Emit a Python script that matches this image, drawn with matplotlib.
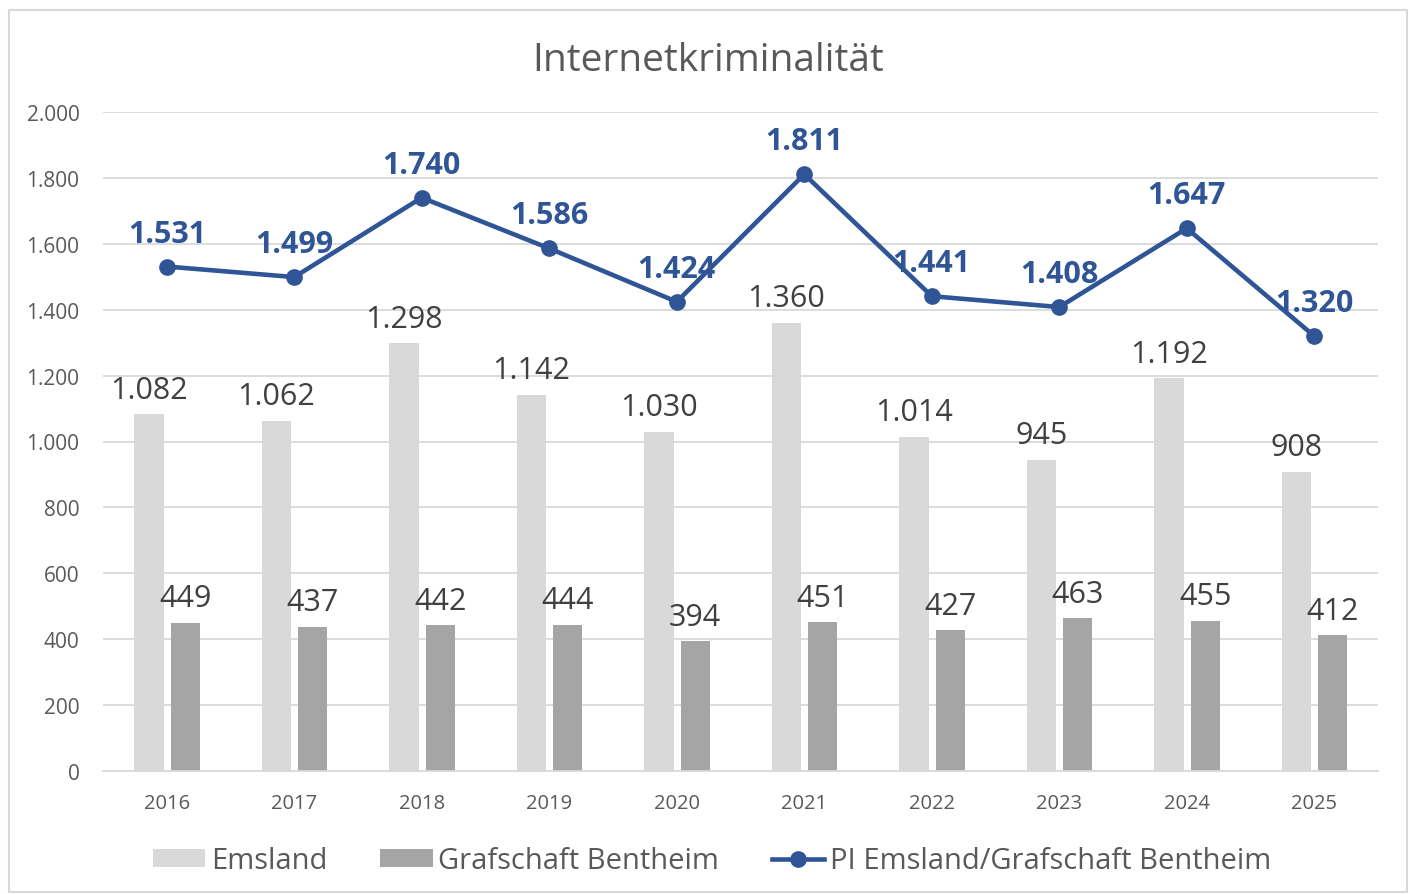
import numpy as np
import matplotlib.pyplot as plt
from matplotlib.patches import Rectangle

plt.rcParams['font.family'] = ['Open Sans', 'DejaVu Sans']

years = ['2016', '2017', '2018', '2019', '2020', '2021', '2022', '2023', '2024', '2025']
emsland = [1082, 1062, 1298, 1142, 1030, 1360, 1014, 945, 1192, 908]
grafschaft = [449, 437, 442, 444, 394, 451, 427, 463, 455, 412]
pi_total = [1531, 1499, 1740, 1586, 1424, 1811, 1441, 1408, 1647, 1320]

def fmt(v):
    return '{:,}'.format(v).replace(',', '.')

fig = plt.figure(figsize=(14.1, 8.95), dpi=100)
ax = fig.add_axes([103/1410, 1-772/895, 1275/1410, 659/895])

x = np.arange(len(years))
w = 0.23
b1 = ax.bar(x - 0.14, emsland, w, color='#D9D9D9', label='Emsland', zorder=2)
b2 = ax.bar(x + 0.145, grafschaft, w, color='#A5A5A5', label='Grafschaft Bentheim', zorder=2)
ln, = ax.plot(x, pi_total, color='#2F5597', lw=3.3, marker='o', ms=11, zorder=3,
              label='PI Emsland/Grafschaft Bentheim')

for xi, v in zip(x - 0.14, emsland):
    ax.annotate(fmt(v), (xi, v), xytext=(0, 12), textcoords='offset points',
                ha='center', va='baseline', fontsize=22, color='#404040')
for xi, v in zip(x + 0.145, grafschaft):
    ax.annotate(fmt(v), (xi, v), xytext=(0, 12), textcoords='offset points',
                ha='center', va='baseline', fontsize=22, color='#404040')
for xi, v in zip(x, pi_total):
    ax.annotate(fmt(v), (xi, v), xytext=(0, 18), textcoords='offset points',
                ha='center', va='baseline', fontsize=22, fontweight='bold', color='#2F5597')

ax.set_xlim(-0.5, 9.5)
ax.set_ylim(0, 2000)
ax.set_yticks(range(0, 2001, 200))
ax.set_yticklabels([fmt(v) for v in range(0, 2001, 200)], fontsize=15, color='#595959')
ax.set_xticks(x)
ax.set_xticklabels(years, fontsize=14.5, color='#595959')
ax.tick_params(length=0, pad=16)
ax.tick_params(axis='y', pad=17)
ax.grid(axis='y', color='#D9D9D9', lw=1.3, zorder=0)
ax.set_axisbelow(True)
for s in ['top', 'right', 'left']:
    ax.spines[s].set_visible(False)
ax.spines['bottom'].set_color('#D9D9D9')
ax.spines['bottom'].set_linewidth(1.3)

fig.text(0.502, 0.932, 'Internetkriminalität', ha='center', va='center',
         fontsize=28, color='#595959')

fig.legend(handles=[b1, b2, ln], loc='center', bbox_to_anchor=(0.505, 0.037), ncol=3,
           frameon=False, fontsize=21, labelcolor='#595959', handlelength=1.8,
           handleheight=0.6, handletextpad=0.2, columnspacing=1.8)

fig.patches.append(Rectangle((9/1410, 1-893/895), 1398/1410, 882/895,
                             transform=fig.transFigure, fill=False,
                             edgecolor='#D9D9D9', lw=1.5))

fig.savefig('out.png', dpi=100)
